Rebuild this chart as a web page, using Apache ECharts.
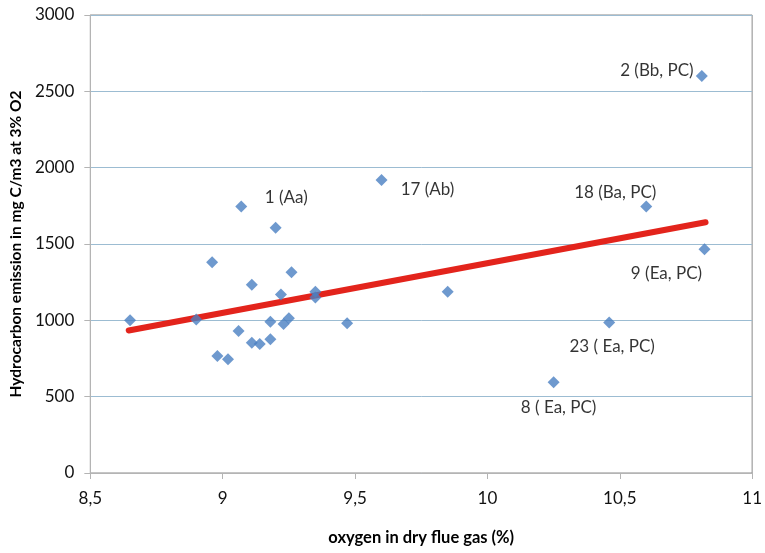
<!DOCTYPE html>
<html>
<head>
<meta charset="utf-8">
<script src="https://cdn.jsdelivr.net/npm/echarts@6/dist/echarts.min.js"></script>
<style>html,body{margin:0;padding:0;background:#fff}#c{width:765px;height:553px}</style>
</head>
<body>
<div id="c"></div>
<script>
// oxygen in dry flue gas (%)
const oxygen = [8.65, 8.90, 8.96, 9.07, 9.20, 9.11, 9.26, 9.22, 9.35, 9.35, 9.06, 9.18, 9.23, 9.25, 9.11, 9.14, 9.18, 8.98, 9.02,
                9.60, 9.85, 9.47, 10.81, 10.60, 10.82, 10.46, 10.25];
// hydrocarbon emission in mg C/m3 at 3% O2
const emission = [1000, 1005, 1380, 1745, 1607, 1233, 1315, 1170, 1188, 1150, 930, 991, 976, 1013, 853, 845, 876, 766, 745,
                  1920, 1188, 981, 2600, 1745, 1465, 985, 595];
// point labels (empty = unlabeled)
const pointLabels = ['', '', '', '1 (Aa)', '', '', '', '', '', '', '', '', '', '', '', '', '', '', '',
                     '17 (Ab)', '', '', '2 (Bb, PC)', '18 (Ba, PC)', '9 (Ea, PC)', '23 ( Ea, PC)', '8 ( Ea, PC)'];
// trend line end points
const trendX = [8.645, 10.824];
const trendY = [933, 1642];
// axis ticks
const xTicks = [8.5, 9, 9.5, 10, 10.5, 11];
const yTicks = [0, 500, 1000, 1500, 2000, 2500, 3000];

// label offsets (style only)
const labelOffsets = {
  '1 (Aa)': [45, -9],
  '17 (Ab)': [46, 10],
  '2 (Bb, PC)': [-45, -6],
  '18 (Ba, PC)': [-31, -14],
  '9 (Ea, PC)': [-38, 24],
  '23 ( Ea, PC)': [3, 24],
  '8 ( Ea, PC)': [5, 25]
};

const font = 'Lato, "Open Sans", sans-serif';
const scatterData = oxygen.map((x, i) => {
  const item = { value: [x, emission[i]] };
  const t = pointLabels[i];
  if (t) {
    item.label = { show: true, formatter: t, position: 'inside', offset: labelOffsets[t],
      color: '#000', fontSize: 17, fontFamily: font };
  }
  return item;
});

const chart = echarts.init(document.getElementById('c'), null, { renderer: 'canvas' });
chart.setOption({
  animation: false,
  backgroundColor: '#ffffff',
  grid: { left: 90, right: 10, top: 15, bottom: 80, show: true, borderColor: '#8a8a8a', borderWidth: 1, backgroundColor: 'transparent' },
  xAxis: {
    type: 'value', min: xTicks[0], max: xTicks[xTicks.length - 1], interval: 0.5,
    name: 'oxygen in dry flue gas (%)', nameLocation: 'middle', nameGap: 56,
    nameTextStyle: { fontFamily: font, fontWeight: 'bold', fontSize: 16.5, color: '#000' },
    axisLine: { show: true, lineStyle: { color: '#b4b4b4', width: 1 } },
    axisTick: { show: true, length: 6, lineStyle: { color: '#b4b4b4' } },
    axisLabel: { margin: 17, fontFamily: font, fontSize: 17, color: '#111',
      formatter: v => String(v).replace('.', ',') },
    splitLine: { show: false }
  },
  yAxis: {
    type: 'value', min: yTicks[0], max: yTicks[yTicks.length - 1], interval: 500,
    name: 'Hydrocarbon emission in mg C/m3 at 3% O2', nameLocation: 'middle', nameGap: 66, nameRotate: 90,
    nameTextStyle: { fontFamily: font, fontWeight: 'bold', fontSize: 15.5, color: '#000' },
    axisLine: { show: true, lineStyle: { color: '#b4b4b4', width: 1 } },
    axisTick: { show: true, length: 6, lineStyle: { color: '#b4b4b4' } },
    axisLabel: { margin: 16, fontFamily: font, fontSize: 17, color: '#111', formatter: v => String(v) },
    splitLine: { show: true, lineStyle: { color: '#9cbcd2', width: 1 } }
  },
  series: [
    {
      type: 'line', data: trendX.map((x, i) => [x, trendY[i]]), showSymbol: false, symbol: 'none',
      lineStyle: { color: '#e3241c', width: 6, cap: 'round' }, z: 2, silent: true
    },
    {
      type: 'scatter', data: scatterData, symbol: 'diamond', symbolSize: 12,
      itemStyle: { color: '#4a80c2' }, z: 3
    }
  ]
});
</script>
</body>
</html>
